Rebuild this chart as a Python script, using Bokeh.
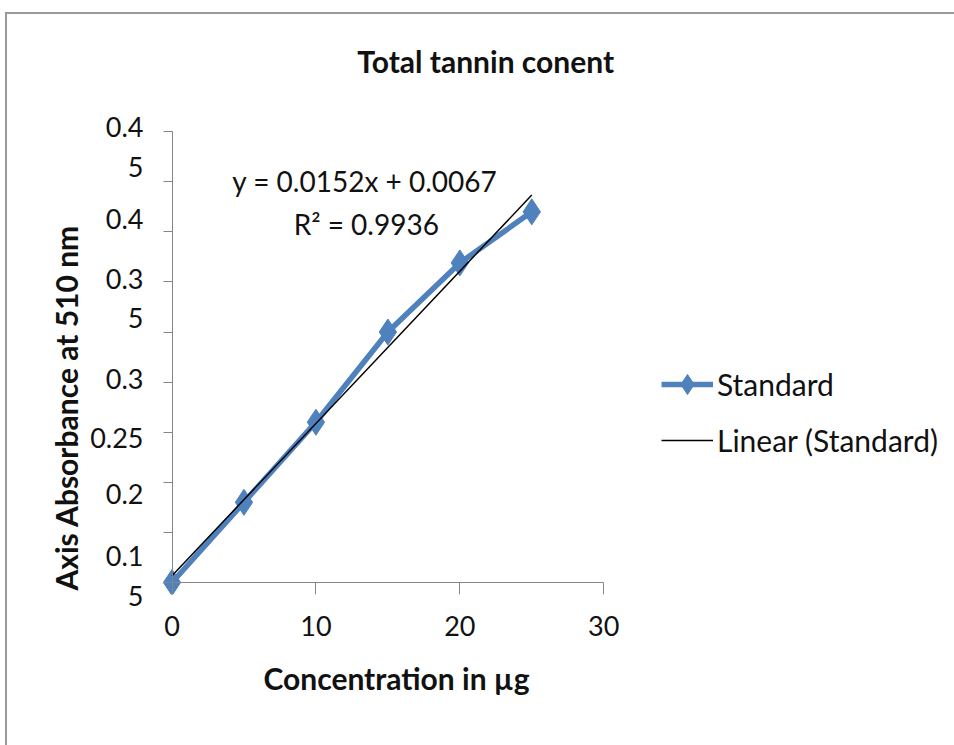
import math
from bokeh.plotting import figure
from bokeh.models import (Range1d, FixedTicker, LinearAxis, Title, ColumnDataSource,
                          Legend, LegendItem)
from bokeh.core.properties import value
from bokeh.embed import file_html
from bokeh.resources import INLINE

# ---- data ----
concentration = [0, 5, 10, 15, 20, 25]
absorbance = [0.000, 0.080, 0.160, 0.250, 0.319, 0.370]
trend_slope = 0.0152
trend_intercept = 0.0067
r_squared = 0.9936
trend_x = [0, 25]

x_ticks = [0, 10, 20, 30]
y_ticks = [0.0, 0.05, 0.10, 0.15, 0.20, 0.25, 0.30, 0.35, 0.40, 0.45]
# the y tick labels appear wrapped and shifted in the reference
y_label_texts = ["0.4\n5", "0.4", "0.3\n5", "0.3", "0.25", "0.2", "0.1\n5"]
y_label_values = [0.435, 0.363, 0.284, 0.204, 0.145, 0.089, 0.007]

title_text = "Total tannin conent"
x_title = "Concentration in \u00b5g"
y_title = "Axis Absorbance at 510 nm"
series_name = "Standard"
trend_name = "Linear (Standard)"

FONT = "Lato"
BLUE = "#4F81BD"
AXIS_GRAY = "#868686"
TEXT = "#111111"

X_MIN, X_MAX = -0.8, 32       # room right of the axis end for the chart title
Y_MIN, Y_MAX = -0.012, 0.56   # room above the axis for the chart title

p = figure(frame_width=472, frame_height=573,
           min_border_left=153, min_border_top=7,
           min_border_right=322, min_border_bottom=151,
           x_range=Range1d(X_MIN, X_MAX), y_range=Range1d(Y_MIN, Y_MAX),
           output_backend="svg", toolbar_location=None)
p.styles = {"margin-left": "5px", "margin-top": "12px",
            "border-left": "2px solid #9a9a9a", "border-top": "2px solid #9a9a9a"}
p.outline_line_color = None
p.xgrid.grid_line_color = None
p.ygrid.grid_line_color = None
p.background_fill_color = "white"
p.border_fill_color = "white"

# x axis with the tick marks (at y = 0)
xa = p.xaxis[0]
xa.fixed_location = 0
xa.bounds = (0, 30)
xa.ticker = FixedTicker(ticks=x_ticks, minor_ticks=[])
xa.axis_line_color = AXIS_GRAY
xa.major_tick_line_color = AXIS_GRAY
xa.major_tick_out = 12
xa.major_tick_in = 0
xa.minor_tick_line_color = None
xa.major_label_overrides = {t: "" for t in x_ticks}
xa.major_label_standoff = 0

# x axis carrying the tick labels and the title
xlab = LinearAxis(ticker=FixedTicker(ticks=x_ticks, minor_ticks=[]),
                  axis_line_color=None, major_tick_line_color=None,
                  minor_tick_line_color=None, major_tick_out=0, major_tick_in=0,
                  major_label_standoff=21,
                  major_label_text_font=FONT, major_label_text_font_size="27px",
                  major_label_text_color=TEXT,
                  axis_label=x_title, axis_label_text_font=FONT,
                  axis_label_text_font_style="bold",
                  axis_label_text_font_size="30px",
                  axis_label_text_color=TEXT, axis_label_standoff=21)
p.add_layout(xlab, "below")
p.below = [xlab, xa]

# y axis with the tick marks (no labels)
ya = p.yaxis[0]
ya.fixed_location = 0
ya.bounds = (0, 0.45)
ya.ticker = FixedTicker(ticks=y_ticks, minor_ticks=[])
ya.axis_line_color = AXIS_GRAY
ya.major_tick_line_color = AXIS_GRAY
ya.major_tick_out = 9
ya.major_tick_in = 0
ya.minor_tick_line_color = None
ya.major_label_overrides = {t: "" for t in y_ticks}
ya.major_label_standoff = 0

# second y axis carrying the (offset, wrapped) tick labels of the reference
ylab = LinearAxis(ticker=FixedTicker(ticks=y_label_values, minor_ticks=[]),
                  major_label_overrides=dict(zip(y_label_values, y_label_texts)),
                  axis_line_color=None, major_tick_line_color=None,
                  minor_tick_line_color=None, major_tick_out=0, major_tick_in=0,
                  major_label_standoff=17,
                  major_label_text_font=FONT, major_label_text_font_size="27px",
                  major_label_text_color=TEXT)
p.add_layout(ylab, "left")
p.left = [ylab, ya]

# y axis title (rotated)
p.add_layout(Title(text=y_title, align="left", offset=4, standoff=8,
                   text_font=FONT, text_font_size="30px", text_font_style="bold",
                   text_color=TEXT), "left")

# chart title, placed above the plotted values
p.text(x=[21.8], y=[0.521], text=[title_text], text_align="center",
       text_baseline="middle", text_font=value(FONT), text_font_size="30px",
       text_font_style="bold", text_color=TEXT)

# series
src = ColumnDataSource(dict(x=concentration, y=absorbance))
line_r = p.line("x", "y", source=src, line_color=BLUE, line_width=5.5)
pts_r = p.scatter("x", "y", source=src, marker="diamond",
                  size=26, fill_color=BLUE, line_color=BLUE)

trend_y = [trend_slope * x + trend_intercept for x in trend_x]
trend_r = p.line(trend_x, trend_y, line_color="black", line_width=1.5)

# equation
eq_src = ColumnDataSource(dict(
    x=[13.4, 13.5],
    y=[trend_slope * 25 + trend_intercept + 0.014, trend_slope * 25 + trend_intercept - 0.029],
    text=[f"y = {trend_slope}x + {trend_intercept}", f"R\u00b2 = {r_squared}"]))
p.text("x", "y", text="text", source=eq_src, text_align="center",
       text_baseline="middle", text_font=value(FONT), text_font_size="28px",
       text_color=TEXT)

legend = Legend(items=[LegendItem(label=series_name, renderers=[line_r, pts_r]),
                       LegendItem(label=trend_name, renderers=[trend_r])],
                location=(29, 129), orientation="vertical",
                glyph_width=52, glyph_height=50, label_height=50,
                spacing=6, padding=0, margin=0, label_standoff=4,
                label_text_font=FONT, label_text_font_size="30px",
                label_text_color=TEXT,
                border_line_color=None, background_fill_alpha=0)
p.add_layout(legend, "right")

open("out.html", "w").write(file_html(p, INLINE))
